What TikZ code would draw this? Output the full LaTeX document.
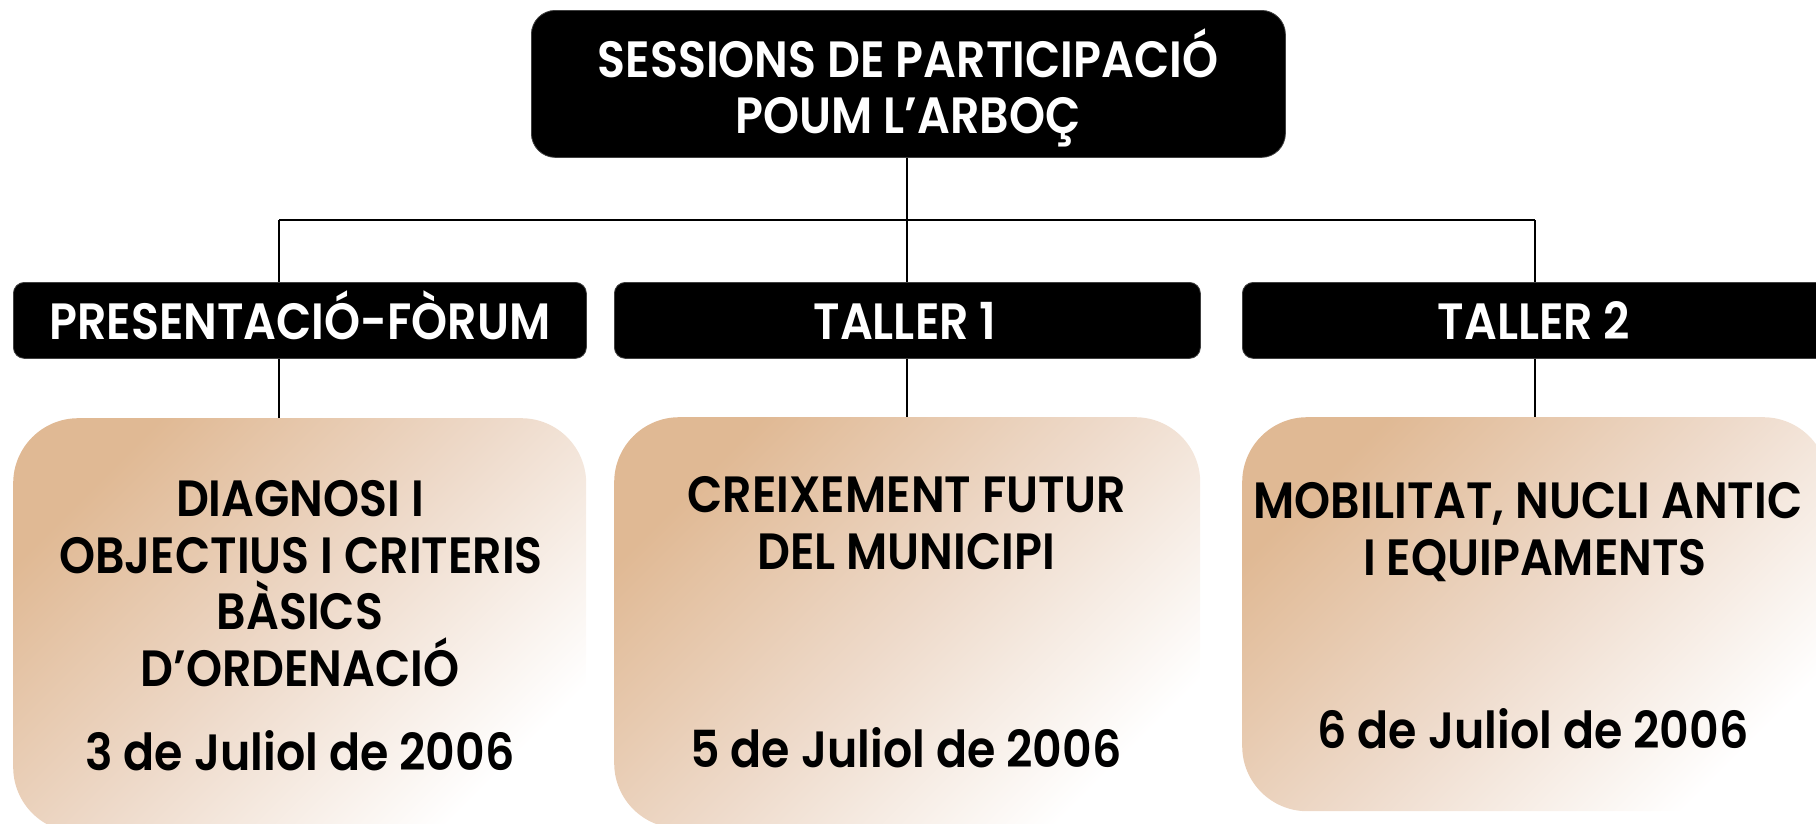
\documentclass[tikz,border=0pt]{standalone}
\usepackage{fontspec}
\newfontfamily\boxfont{Poppins SemiBold}[FakeStretch=0.9]
\definecolor{tanA}{HTML}{E0B994}
\definecolor{tanB}{HTML}{EEDACA}
\definecolor{tanC}{HTML}{FFFFFF}
\begin{document}
\begin{tikzpicture}[x=1pt,y=-1pt,
  blackbox/.style={fill=black, draw=black!75, line width=0.8pt, inner sep=0pt, anchor=north west},
  tanbox/.style={rounded corners=65pt, inner sep=0pt, anchor=north west,
    top color=tanA, bottom color=tanC, middle color=tanB, shading angle=45},
  conn/.style={line width=2.5pt, draw=black},
  txt/.style={font=\boxfont\fontsize{51}{57}\selectfont, anchor=base, inner sep=0pt},
  whitetxt/.style={txt, text=white},
  darktxt/.style={txt, text=black},
]
\useasboundingbox (0,0) rectangle (1816,823);
\clip (0,0) rectangle (1816,823);

% boxes
\node[blackbox, rounded corners=24pt, minimum width=754pt, minimum height=147pt] (top) at (531,10) {};
\node[blackbox, rounded corners=11pt, minimum width=573pt, minimum height=76pt] (h1) at (13,282) {};
\node[blackbox, rounded corners=11pt, minimum width=586pt, minimum height=76pt] (h2) at (614,282) {};
\node[blackbox, rounded corners=11pt, minimum width=586pt, minimum height=76pt] (h3) at (1242,282) {};

\node[tanbox, minimum width=573pt, minimum height=414pt] (b1) at (13,418) {};
\node[tanbox, minimum width=586pt, minimum height=411pt] (b2) at (614,417) {};
\node[tanbox, minimum width=586pt, minimum height=394pt] (b3) at (1242,417) {};

% connectors
\coordinate (bus1) at (279,220);
\coordinate (bus2) at (907,220);
\coordinate (bus3) at (1535,220);
\draw[conn] (top.south -| bus2) -- (bus2);
\draw[conn] (bus1) -- (bus3);
\draw[conn] (bus1) -- (bus1 |- h1.north);
\draw[conn] (bus2) -- (bus2 |- h2.north);
\draw[conn] (bus3) -- (bus3 |- h3.north);
\draw[conn] (bus1 |- h1.south) -- (bus1 |- b1.north);
\draw[conn] (bus2 |- h2.south) -- (bus2 |- b2.north);
\draw[conn] (bus3 |- h3.south) -- (bus3 |- b3.north);

% texts
\node[whitetxt] (t0a) at (908,77) {SESSIONS DE PARTICIPACIÓ};
\node[whitetxt] (t0b) at (908,133) {POUM L’ARBOÇ};

\node[whitetxt] (t1) at (300,339) {PRESENTACIÓ-FÒRUM};
\node[whitetxt] (t2) at (905,339) {TALLER 1};
\node[whitetxt] (t3) at (1534,339) {TALLER 2};

\node[darktxt] (d1a) at (300,516) {DIAGNOSI I};
\node[darktxt] (d1b) at (301,573) {OBJECTIUS I CRITERIS};
\node[darktxt] (d1c) at (300,629) {BÀSICS};
\node[darktxt] (d1d) at (300,686) {D’ORDENACIÓ};
\node[darktxt] (d1e) at (300,770) {3 de Juliol de 2006};

\node[darktxt] (d2a) at (907,512) {CREIXEMENT FUTUR};
\node[darktxt] (d2b) at (906,569) {DEL MUNICIPI};
\node[darktxt] (d2e) at (906,767) {5 de Juliol de 2006};

\node[darktxt] (d3a) at (1528,518) {MOBILITAT, NUCLI ANTIC};
\node[darktxt] (d3b) at (1535,575) {I EQUIPAMENTS};
\node[darktxt] (d3e) at (1533,748) {6 de Juliol de 2006};
\end{tikzpicture}
\end{document}
